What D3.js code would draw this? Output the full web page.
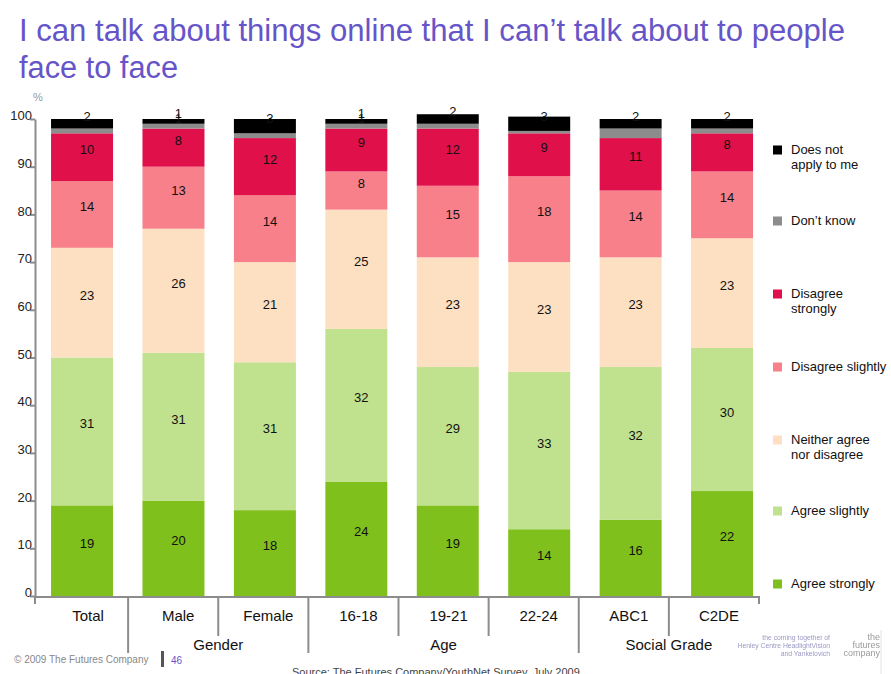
<!DOCTYPE html>
<html>
<head>
<meta charset="utf-8">
<script src="https://cdn.jsdelivr.net/npm/d3@7"></script>
<style>
  html, body { margin: 0; padding: 0; background: #fff; }
  svg { display: block; font-family: "Liberation Sans", Arial, sans-serif; }
</style>
</head>
<body>
<svg id="chart" width="891" height="674"></svg>
<script>
// ---- data ----
const categories = ["Total", "Male", "Female", "16-18", "19-21", "22-24", "ABC1", "C2DE"];
const groups = [
  { name: "", members: ["Total"] },
  { name: "Gender", members: ["Male", "Female"] },
  { name: "Age", members: ["16-18", "19-21", "22-24"] },
  { name: "Social Grade", members: ["ABC1", "C2DE"] }
];
const agreeStrongly    = [19, 20, 18, 24, 19, 14, 16, 22];
const agreeSlightly    = [31, 31, 31, 32, 29, 33, 32, 30];
const neither          = [23, 26, 21, 25, 23, 23, 23, 23];
const disagreeSlightly = [14, 13, 14, 8, 15, 18, 14, 14];
const disagreeStrongly = [10, 8, 12, 9, 12, 9, 11, 8];
const dontKnow         = [1, 1, 1, 1, 1, 0.5, 2, 1];
const notApply         = [2, 1, 3, 1, 2, 3, 2, 2];
// "Don't know" values are only printed on some bars
const dontKnowLabelled = [false, true, false, true, false, false, false, false];
const yTicks = [0, 10, 20, 30, 40, 50, 60, 70, 80, 90, 100];

const series = [
  { key: "agreeStrongly",    name: "Agree strongly",              values: agreeStrongly,    color: "#80c01c", labels: true },
  { key: "agreeSlightly",    name: "Agree slightly",              values: agreeSlightly,    color: "#c0e18e", labels: true },
  { key: "neither",          name: "Neither agree\nnor disagree", values: neither,          color: "#fddfc2", labels: true },
  { key: "disagreeSlightly", name: "Disagree slightly",           values: disagreeSlightly, color: "#f7808a", labels: true },
  { key: "disagreeStrongly", name: "Disagree\nstrongly",          values: disagreeStrongly, color: "#e0104a", labels: true },
  { key: "dontKnow",         name: "Don\u2019t know",             values: dontKnow,         color: "#8c8c8c", labels: dontKnowLabelled },
  { key: "notApply",         name: "Does not\napply to me",       values: notApply,         color: "#000000", labels: true }
];

const rows = categories.map((c, i) => {
  const r = { category: c };
  series.forEach(s => { r[s.key] = s.values[i]; });
  return r;
});

// ---- layout ----
const svg = d3.select("#chart");
const axisColor = "#8c8c8c";
const plotTop = 119, plotBottom = 596, axisLeft = 35, axisRight = 759;

const y = d3.scaleLinear().domain([0, 100]).range([plotBottom, plotTop]);
const x = d3.scaleBand().domain(categories).range([21.6, 782.5]).paddingInner(0.322).paddingOuter(0.322);
const cell = d3.scaleBand().domain(categories).range([38, axisRight]).padding(0);

// ---- title ----
const title = svg.append("g").attr("fill", "#6655c8").attr("font-size", 31);
title.append("text").attr("x", 19).attr("y", 41)
  .attr("textLength", 826).attr("lengthAdjust", "spacingAndGlyphs")
  .text("I can talk about things online that I can\u2019t talk about to people");
title.append("text").attr("x", 19).attr("y", 78)
  .attr("textLength", 159).attr("lengthAdjust", "spacingAndGlyphs")
  .text("face to face");

svg.append("text").attr("x", 38).attr("y", 101).attr("text-anchor", "middle")
  .attr("font-size", 11).attr("fill", "#999").text("%");

// ---- bars ----
const stacked = d3.stack().keys(series.map(s => s.key))(rows);

const layer = svg.append("g").selectAll("g.layer")
  .data(stacked).join("g").attr("class", "layer")
  .attr("fill", (d, i) => series[i].color);

layer.selectAll("rect").data(d => d).join("rect")
  .attr("x", d => x(d.data.category))
  .attr("width", x.bandwidth())
  .attr("y", d => y(d[1]))
  .attr("height", d => y(d[0]) - y(d[1]));

// value labels
const labelShift = 5;
const labelG = svg.append("g").attr("font-size", 13).attr("fill", "#111").attr("text-anchor", "middle");
stacked.forEach((lay, si) => {
  const s = series[si];
  lay.forEach((d, ci) => {
    const show = s.labels === true || (Array.isArray(s.labels) && s.labels[ci]);
    if (!show) return;
    labelG.append("text")
      .attr("x", x(d.data.category) + x.bandwidth() / 2 + labelShift)
      .attr("y", y((d[0] + d[1]) / 2) - 7.5)
      .attr("dominant-baseline", "central")
      .text(s.values[ci]);
  });
});

// ---- y axis ----
const yAxis = svg.append("g").attr("transform", `translate(${axisLeft},0)`)
  .call(d3.axisLeft(y).tickValues(yTicks).tickSize(5).tickSizeOuter(0));
yAxis.select(".domain").attr("stroke", axisColor).attr("stroke-width", 2);
yAxis.selectAll(".tick line").attr("stroke", axisColor).attr("stroke-width", 2);
yAxis.selectAll(".tick text")
  .attr("x", -3).attr("dy", "0.05em")
  .attr("font-size", 13).attr("fill", "#222")
  .attr("font-family", "Liberation Sans, Arial, sans-serif");

// ---- category axis ----
const xg = svg.append("g").attr("stroke", axisColor).attr("stroke-width", 2);
xg.append("line").attr("x1", axisLeft - 1).attr("x2", axisRight + 1)
  .attr("y1", plotBottom + 1).attr("y2", plotBottom + 1);
// end stubs
[axisLeft, axisRight].forEach(px => {
  xg.append("line").attr("x1", px).attr("x2", px).attr("y1", plotBottom).attr("y2", 604);
});
// separators: long between groups, short within
const groupOf = c => groups.findIndex(g => g.members.includes(c));
categories.slice(1).forEach((c, i) => {
  const prev = categories[i];
  const px = cell(c);
  const long = groupOf(c) !== groupOf(prev);
  xg.append("line").attr("x1", px).attr("x2", px)
    .attr("y1", plotBottom).attr("y2", long ? 653 : 636);
});

svg.append("g").attr("font-size", 15).attr("fill", "#111").attr("text-anchor", "middle")
  .selectAll("text").data(categories).join("text")
  .attr("x", c => cell(c) + cell.bandwidth() / 2 + labelShift)
  .attr("y", 621)
  .text(c => c);

svg.append("g").attr("font-size", 15).attr("fill", "#111").attr("text-anchor", "middle")
  .selectAll("text").data(groups.filter(g => g.name)).join("text")
  .attr("x", g => (cell(g.members[0]) + cell(g.members[g.members.length - 1]) + cell.bandwidth()) / 2)
  .attr("y", 650)
  .text(g => g.name);

// ---- legend ----
const legendBaselines = [588, 515, 444, 371, 298, 225, 154];
const legend = svg.append("g").attr("font-size", 13).attr("fill", "#111");
series.forEach((s, i) => {
  const by = legendBaselines[i];
  legend.append("rect").attr("x", 773).attr("y", by - 8.5).attr("width", 9).attr("height", 9)
    .attr("fill", s.color);
  const t = legend.append("text").attr("x", 791).attr("y", by);
  s.name.split("\n").forEach((line, li) => {
    t.append("tspan").attr("x", 791).attr("dy", li === 0 ? 0 : 14.5).text(line);
  });
});

// ---- footer ----
svg.append("text").attr("x", 14).attr("y", 663).attr("font-size", 10).attr("fill", "#888")
  .text("\u00a9 2009 The  Futures  Company");
svg.append("rect").attr("x", 161).attr("y", 651).attr("width", 3).attr("height", 16).attr("fill", "#555");
svg.append("text").attr("x", 171).attr("y", 664).attr("font-size", 10).attr("fill", "#6655c8").text("46");
svg.append("text").attr("x", 292).attr("y", 676).attr("font-size", 11).attr("fill", "#444")
  .text("Source:  The Futures Company/YouthNet  Survey,  July 2009");

// company mark
const defs = svg.append("defs");
defs.append("filter").attr("id", "soft").append("feGaussianBlur").attr("stdDeviation", 0.45);
const logo = svg.append("g").attr("filter", "url(#soft)");
const tag = logo.append("g").attr("font-size", 6.8).attr("fill", "#9a98c4").attr("text-anchor", "end");
["the coming together of", "Henley Centre HeadlightVision", "and Yankelovich"].forEach((l, i) => {
  tag.append("text").attr("x", 830).attr("y", 640 + i * 8).text(l);
});
const mark = logo.append("g").attr("font-size", 9).attr("fill", "#9a9a9a").attr("text-anchor", "end");
["the", "futures", "company"].forEach((l, i) => {
  mark.append("text").attr("x", 880).attr("y", 640 + i * 8).text(l);
});
logo.append("line").attr("x1", 881).attr("x2", 881).attr("y1", 630).attr("y2", 674)
  .attr("stroke", "#e4e4e4").attr("stroke-width", 1);
</script>
</body>
</html>
